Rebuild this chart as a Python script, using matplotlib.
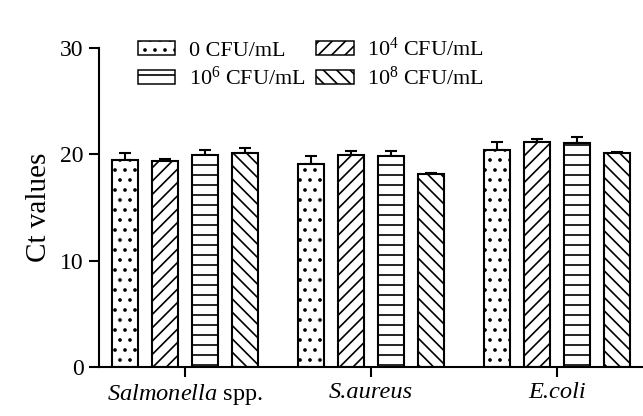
import numpy as np
import matplotlib
matplotlib.use('Agg')
import matplotlib.pyplot as plt

plt.rcParams['font.family'] = ['Liberation Serif', 'DejaVu Serif']
plt.rcParams['hatch.linewidth'] = 1.0
plt.rcParams['mathtext.fontset'] = 'custom'
plt.rcParams['mathtext.rm'] = 'Liberation Serif'
plt.rcParams['mathtext.it'] = 'Liberation Serif:italic'

bacteria = ['Salmonella', 'S.aureus', 'E.coli']
concentrations = ['0 CFU/mL', '10$^4$ CFU/mL', '10$^6$ CFU/mL', '10$^8$ CFU/mL']

# mean Ct for each bacterium, one list per concentration
ct_0 = [19.45, 19.06, 20.44]
ct_4 = [19.33, 19.90, 21.14]
ct_6 = [19.90, 19.80, 21.08]
ct_8 = [20.10, 18.10, 20.10]

sd_0 = [0.70, 0.76, 0.73]
sd_4 = [0.23, 0.40, 0.30]
sd_6 = [0.50, 0.50, 0.55]
sd_8 = [0.50, 0.15, 0.10]

means = [ct_0, ct_4, ct_6, ct_8]
sds = [sd_0, sd_4, sd_6, sd_8]
hatches = ['..', '///', '--', '\\\\\\']

DPI = 120
fig = plt.figure(figsize=(643 / DPI, 416 / DPI), dpi=DPI)
ax = fig.add_axes([0.154, 0.118, 0.846, 0.767])

x = np.arange(len(bacteria))
width = 0.14
step = 0.215
handles = []
for i in range(4):
    pos = x + (i - 1.5) * step
    b = ax.bar(pos, means[i], width, color='white', edgecolor='black',
               linewidth=1.25, hatch=hatches[i], label=concentrations[i], zorder=2)
    ax.errorbar(pos, means[i], yerr=[np.zeros(3), sds[i]], fmt='none',
                ecolor='black', elinewidth=1.25, capsize=3.8, capthick=1.25, zorder=1)
    handles.append(b)

ax.set_ylim(0, 30)
ax.set_yticks([0, 10, 20, 30])
ax.set_xlim(-0.462, 2.462)
ax.set_xticks(x)
ax.set_xticklabels(['$\\mathit{Salmonella}$ spp.', 'S.aureus', 'E.coli'], fontsize=14.6)
for lab in ax.get_xticklabels()[1:]:
    lab.set_fontstyle('italic')
ax.set_ylabel('Ct values', fontsize=17.5, labelpad=5)
ax.tick_params(axis='y', labelsize=14.2, width=1.25, length=5.8, direction='out')
ax.tick_params(axis='x', width=1.25, length=5.8, direction='out', pad=3)
for s in ['top', 'right']:
    ax.spines[s].set_visible(False)
for s in ['left', 'bottom']:
    ax.spines[s].set_linewidth(1.25)

order = [0, 2, 1, 3]
leg = ax.legend([handles[k] for k in order], [concentrations[k] for k in order],
                ncol=2, frameon=False, fontsize=13.3, loc='upper left',
                bbox_to_anchor=(0.055, 1.06), borderaxespad=0,
                handlelength=1.7, handleheight=0.6,
                columnspacing=0.5, handletextpad=0.6, labelspacing=0.25)
for h in leg.legend_handles:
    h.set_linewidth(0.9)

fig.savefig('out.png', dpi=DPI)
